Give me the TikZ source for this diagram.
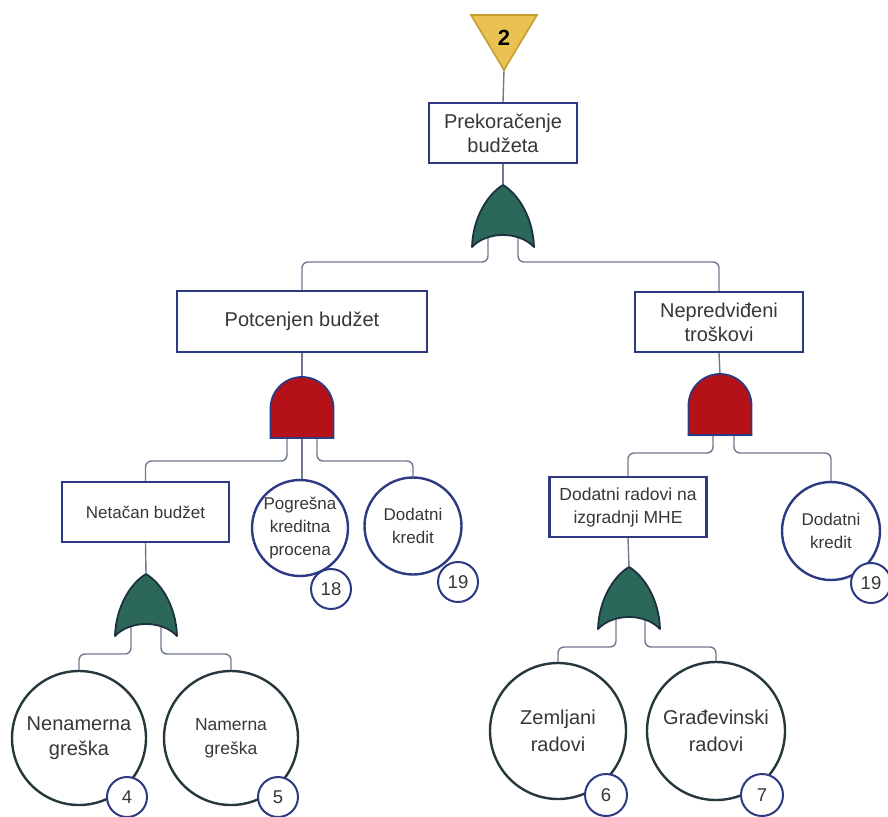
\documentclass[tikz,border=0pt]{standalone}
\usepackage{fontspec}
\setmainfont{Liberation Sans}
\usetikzlibrary{backgrounds}
\definecolor{navy}{RGB}{45,58,130}
\definecolor{darkring}{RGB}{38,56,62}
\definecolor{lineclr}{RGB}{112,122,142}
\definecolor{gatgreen}{RGB}{44,104,90}
\definecolor{gatgreenb}{RGB}{28,48,62}
\definecolor{gatred}{RGB}{180,18,24}
\definecolor{goldfill}{RGB}{234,194,82}
\definecolor{golddraw}{RGB}{198,158,48}
\definecolor{txt}{RGB}{55,55,55}
\newcommand\myfs[2]{\fontsize{#1}{#2}\selectfont}
\begin{document}
\begin{tikzpicture}[x=1pt,y=-1pt,
  box/.style={draw=navy, line width=2.2pt, fill=white, text=txt, align=center, inner sep=0pt},
  ev/.style={circle, draw=navy, line width=2.4pt, fill=white, text=txt, align=center, inner sep=0pt},
  evd/.style={ev, draw=darkring},
  num/.style={circle, draw=navy, line width=2pt, fill=white, text=txt, inner sep=0pt, minimum size=40pt, font=\myfs{18.5}{20}},
  conn/.style={draw=lineclr, line width=1.4pt, rounded corners=6pt},
  orgate/.pic={
    \draw[fill=gatgreen, draw=gatgreenb, line width=1.8pt, line join=round]
      (-31,62) .. controls (-30,32) and (-15,9) .. (0,0)
      .. controls (15,9) and (30,32) .. (31,62)
      .. controls (16,46) and (-16,46) .. cycle;
    \coordinate (-top) at (0,0);
    \coordinate (-l) at (-15,45);
    \coordinate (-r) at (15,45);
  },
  andgate/.pic={
    \draw[fill=gatred, draw=navy, line width=1.8pt]
      (-31.5,61) -- (-31.5,31.5) arc[start angle=180, end angle=360, radius=31.5]
      -- (31.5,61) -- cycle;
    \coordinate (-top) at (0,0);
    \coordinate (-l) at (-15,50);
    \coordinate (-m) at (0,50);
    \coordinate (-r) at (15,50);
  }
]
\useasboundingbox (0,0) rectangle (888,816);

% transfer triangle
\draw[fill=goldfill, draw=golddraw, line width=1.6pt] (471,15) -- (537,15) -- (504,70) -- cycle;
\coordinate (trapex) at (504,70);
\node[font=\bfseries\myfs{22}{22}, text=black] (t2) at (504,38) {2};

% boxes
\node[box, minimum width=148pt, minimum height=60pt, font=\myfs{20}{24}] (prek) at (503,133) {Prekoračenje\\budžeta};
\node[box, minimum width=250pt, minimum height=61pt, font=\myfs{20}{24}] (pot) at (302,321.5) {Potcenjen budžet};
\node[box, minimum width=168pt, minimum height=60pt, font=\myfs{20}{24}] (nep) at (719,322) {Nepredviđeni\\troškovi};
\node[box, minimum width=167pt, minimum height=60pt, font=\myfs{17}{22}] (net) at (145.5,512) {Netačan budžet};
\node[box, minimum width=157pt, minimum height=60pt, font=\myfs{17.5}{23}] (dod) at (628,507) {Dodatni radovi na\\izgradnji MHE};

% gates
\pic (or1) at (503,185) {orgate};
\pic (and1) at (302,377) {andgate};
\pic (and2) at (720,374) {andgate};
\pic (or3) at (146,574) {orgate};
\pic (or2) at (629,567) {orgate};
\coordinate (a2l) at (713,420);
\coordinate (a2r) at (734,420);
\coordinate (o2l) at (616,612);
\coordinate (o2r) at (645,612);

% events
\node[ev, minimum size=96pt, font=\myfs{17}{23}] (pog) at (300,528) {Pogrešna\\kreditna\\procena};
\node[ev, minimum size=97pt, font=\myfs{17}{23}] (dk1) at (413,526) {Dodatni\\kredit};
\node[ev, minimum size=98pt, font=\myfs{17}{23}] (dk2) at (831,531) {Dodatni\\kredit};
\node[evd, minimum size=134pt, font=\myfs{20}{25}] (nen) at (79,738) {Nenamerna\\greška};
\node[evd, minimum size=134pt, font=\myfs{17.5}{24}] (nam) at (231,738) {Namerna\\greška};
\node[evd, minimum size=136pt, font=\myfs{20}{27}] (zem) at (558,731) {Zemljani\\radovi};
\node[evd, minimum size=138pt, font=\myfs{20}{27}] (gra) at (716,731) {Građevinski\\radovi};

% number circles
\node[num] (n18) at (331,589) {18};
\node[num] (n19a) at (458,582) {19};
\node[num] (n19b) at (871,583) {19};
\node[num] (n4) at (127,797) {4};
\node[num] (n5) at (278,797) {5};
\node[num, minimum size=42pt] (n6) at (606,795) {6};
\node[num, minimum size=42pt] (n7) at (762,795) {7};

% bus levels
\coordinate (bus1) at (0,262);
\coordinate (bus2) at (0,461);
\coordinate (bus3) at (0,453);
\coordinate (bus4) at (0,654);
\coordinate (bus5) at (0,647);

\begin{scope}[on background layer]
\draw[conn] (trapex) -- (prek.north);
\draw[conn] (prek.south) -- (or1-top);
\draw[conn] (or1-l) -- (or1-l |- bus1) -| (pot.north);
\draw[conn] (or1-r) -- (or1-r |- bus1) -| (nep.north);
\draw[conn] (pot.south) -- (and1-top);
\draw[conn] (and1-l) -- (and1-l |- bus2) -| (net.north);
\draw[conn] (and1-m) -- (and1-m |- pog.north);
\draw[conn] (and1-r) -- (and1-r |- bus2) -| (dk1.north);
\draw[conn] (nep.south) -- (and2-top);
\draw[conn] (a2l) -- (a2l |- bus3) -| (dod.north);
\draw[conn] (a2r) -- (a2r |- bus3) -| (dk2.north);
\draw[conn] (net.south) -- (or3-top);
\draw[conn] (or3-l) -- (or3-l |- bus4) -| (nen.north);
\draw[conn] (or3-r) -- (or3-r |- bus4) -| (nam.north);
\draw[conn] (dod.south) -- (or2-top);
\draw[conn] (o2l) -- (o2l |- bus5) -| (zem.north);
\draw[conn] (o2r) -- (o2r |- bus5) -| (gra.north);
\end{scope}
\end{tikzpicture}
\end{document}
